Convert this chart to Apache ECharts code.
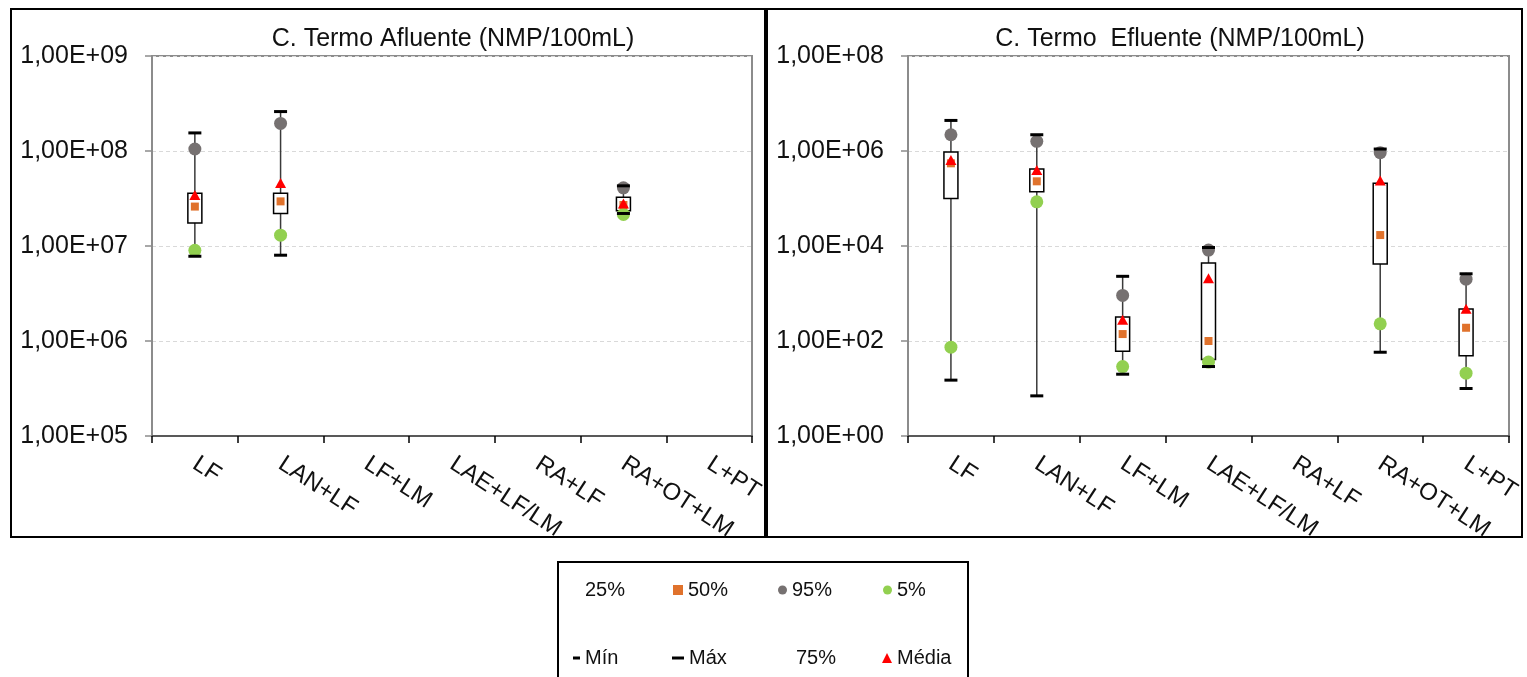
<!DOCTYPE html>
<html>
<head>
<meta charset="utf-8">
<script src="https://cdn.jsdelivr.net/npm/echarts@6/dist/echarts.min.js"></script>
<style>
  html, body { margin: 0; padding: 0; background: #fff; }
  #chart { width: 1527px; height: 677px; }
</style>
</head>
<body>
<div id="chart"></div>
<script>
// Treatment systems (shared by both panels)
const categories = ['LF', 'LAN+LF', 'LF+LM', 'LAE+LF/LM', 'RA+LF', 'RA+OT+LM', 'L+PT'];

// Thermotolerant coliforms, influent (NMP/100mL)
const afluenteMin  = [7.8e6, 8.0e6, null, null, null, 2.2e7, null];
const afluenteP5   = [9.0e6, 1.3e7, null, null, null, 2.15e7, null];
const afluenteP25  = [1.75e7, 2.2e7, null, null, null, 2.35e7, null];
const afluenteP50  = [2.6e7, 2.95e7, null, null, null, 2.7e7, null];
const afluenteP75  = [3.6e7, 3.6e7, null, null, null, 3.25e7, null];
const afluenteP95  = [1.05e8, 1.95e8, null, null, null, 4.1e7, null];
const afluenteMax  = [1.55e8, 2.6e8, null, null, null, 4.3e7, null];
const afluenteMean = [3.45e7, 4.6e7, null, null, null, 2.8e7, null];

// Thermotolerant coliforms, effluent (NMP/100mL)
const efluenteMin  = [15, 7, 20, 29, null, 58, 10];
const efluenteP5   = [74, 8.5e4, 29, 36, null, 230, 21];
const efluenteP25  = [1.0e5, 1.38e5, 61, 41, null, 4200, 49];
const efluenteP50  = [5.5e5, 2.3e5, 140, 100, null, 1.7e4, 190];
const efluenteP75  = [9.5e5, 4.2e5, 320, 4400, null, 2.1e5, 470];
const efluenteP95  = [2.2e6, 1.6e6, 910, 8200, null, 9.2e5, 2000];
const efluenteMax  = [4.4e6, 2.2e6, 2300, 9300, null, 1.1e6, 2600];
const efluenteMean = [6.5e5, 4.0e5, 280, 2100, null, 2.4e5, 480];

// Y tick labels
const leftYLabels  = ['1,00E+05', '1,00E+06', '1,00E+07', '1,00E+08', '1,00E+09'];
const rightYLabels = ['1,00E+00', '1,00E+02', '1,00E+04', '1,00E+06', '1,00E+08'];

const FONT = '"Liberation Sans", Arial, sans-serif';

function points(arr) {
  const out = [];
  arr.forEach((v, i) => { if (v != null) out.push([i, v]); });
  return out;
}

function boxData(mn, p25, p75, mx) {
  const out = [];
  categories.forEach((c, i) => {
    if (mn[i] != null) out.push([i, mn[i], p25[i], p75[i], mx[i]]);
  });
  return out;
}

// Whisker from min to max plus a 25%-75% box
function renderBox(params, api) {
  const x = api.value(0);
  const pMin = api.coord([x, api.value(1)]);
  const p25 = api.coord([x, api.value(2)]);
  const p75 = api.coord([x, api.value(3)]);
  const pMax = api.coord([x, api.value(4)]);
  const w = 14;
  return {
    type: 'group',
    children: [
      { type: 'line', shape: { x1: pMin[0], y1: pMin[1], x2: pMax[0], y2: pMax[1] },
        style: { stroke: '#3a3a3a', lineWidth: 1.5 } },
      { type: 'rect', shape: { x: p75[0] - w / 2, y: p75[1], width: w, height: p25[1] - p75[1] },
        style: { fill: '#ffffff', stroke: '#000000', lineWidth: 1.5 } }
    ]
  };
}

const styles = {
  '25%':   { symbol: 'none' },
  '50%':   { symbol: 'rect', symbolSize: 8, color: '#E0722C' },
  '95%':   { symbol: 'circle', symbolSize: 13, color: '#767171' },
  '5%':    { symbol: 'circle', symbolSize: 13, color: '#92D050' },
  'Mín':   { symbol: 'rect', symbolSize: [13, 3], color: '#000000' },
  'Máx':   { symbol: 'rect', symbolSize: [13, 3], color: '#000000' },
  '75%':   { symbol: 'none' },
  'Média': { symbol: 'triangle', symbolSize: [11, 10], color: '#FF0000' }
};

function panelSeries(idx, sets) {
  const list = [{
    type: 'custom', xAxisIndex: idx, yAxisIndex: idx,
    renderItem: renderBox,
    encode: { x: 0, y: [1, 2, 3, 4] },
    data: boxData(sets['Mín'], sets['25%'], sets['75%'], sets['Máx']),
    silent: true, z: 2
  }];
  ['25%', '50%', '95%', '5%', 'Mín', 'Máx', '75%', 'Média'].forEach((name, k) => {
    const s = styles[name];
    list.push({
      type: 'scatter', name: name, xAxisIndex: idx, yAxisIndex: idx,
      symbol: s.symbol, symbolSize: s.symbolSize || 10,
      itemStyle: { color: s.color || '#000', opacity: 1 },
      data: points(sets[name]), z: 3 + k, silent: true
    });
  });
  return list;
}

const leftSets = {
  '25%': afluenteP25, '50%': afluenteP50, '95%': afluenteP95, '5%': afluenteP5,
  'Mín': afluenteMin, 'Máx': afluenteMax, '75%': afluenteP75, 'Média': afluenteMean
};
const rightSets = {
  '25%': efluenteP25, '50%': efluenteP50, '95%': efluenteP95, '5%': efluenteP5,
  'Mín': efluenteMin, 'Máx': efluenteMax, '75%': efluenteP75, 'Média': efluenteMean
};

function xAxis(gi) {
  return {
    type: 'category', gridIndex: gi, data: categories, boundaryGap: true,
    axisLine: { show: true, lineStyle: { color: '#595959', width: 2 } },
    axisTick: { show: true, alignWithLabel: false, length: 7, lineStyle: { color: '#000', width: 1.5 } },
    axisLabel: { interval: 0, rotate: -33, margin: 26, fontSize: 24, fontFamily: FONT, color: '#111' },
    splitLine: { show: false }
  };
}

function yAxis(gi, base, min, max, labels, toIndex) {
  return {
    type: 'log', gridIndex: gi, logBase: base, min: min, max: max,
    axisLine: { show: true, lineStyle: { color: '#8c8c8c', width: 2 } },
    axisTick: { show: true, length: 7, lineStyle: { color: '#8c8c8c', width: 1.5 } },
    axisLabel: {
      margin: 24, fontSize: 25, fontFamily: FONT, color: '#111',
      formatter: v => labels[toIndex(v)]
    },
    splitLine: { show: true, lineStyle: { color: '#d9d9d9', width: 1, type: [4, 3] } },
    minorTick: { show: false }, minorSplitLine: { show: false }
  };
}

function legendItem(name, left, top, w, h, icon) {
  return {
    data: [name], left: left, top: top, padding: 0, orient: 'horizontal',
    itemWidth: w, itemHeight: h, icon: icon, selectedMode: false,
    textStyle: { fontSize: 20, fontFamily: FONT, color: '#111' }
  };
}

const chart = echarts.init(document.getElementById('chart'), null, { renderer: 'canvas' });

chart.setOption({
  animation: false,
  backgroundColor: '#ffffff',
  grid: [
    { left: 152, top: 56, width: 600, height: 380, show: true, borderColor: '#8c8c8c', borderWidth: 2,
      containLabel: false, outerBoundsMode: 'none' },
    { left: 908, top: 56, width: 601, height: 380, show: true, borderColor: '#8c8c8c', borderWidth: 2,
      containLabel: false, outerBoundsMode: 'none' }
  ],
  xAxis: [xAxis(0), xAxis(1)],
  yAxis: [
    yAxis(0, 10, 1e5, 1e9, leftYLabels, v => Math.round(Math.log10(v)) - 5),
    yAxis(1, 100, 1, 1e8, rightYLabels, v => Math.round(Math.log10(v) / 2))
  ],
  legend: [
    legendItem('25%', 570, 580, 10, 10, 'none'),
    legendItem('50%', 673, 580, 10, 10, 'rect'),
    legendItem('95%', 778, 580, 9, 9, 'circle'),
    legendItem('5%', 883, 580, 9, 9, 'circle'),
    legendItem('Mín', 573, 648, 7, 3, 'rect'),
    legendItem('Máx', 672, 648, 12, 3, 'rect'),
    legendItem('75%', 781, 648, 10, 10, 'none'),
    legendItem('Média', 882, 648, 10, 10, 'triangle')
  ],
  graphic: [
    { type: 'rect', shape: { x: 11, y: 9, width: 754, height: 528 },
      style: { fill: 'none', stroke: '#000', lineWidth: 2 }, silent: true },
    { type: 'rect', shape: { x: 767, y: 9, width: 755, height: 528 },
      style: { fill: 'none', stroke: '#000', lineWidth: 2 }, silent: true },
    { type: 'rect', shape: { x: 558, y: 562, width: 410, height: 140 },
      style: { fill: 'none', stroke: '#000', lineWidth: 2 }, silent: true },
    { type: 'text', x: 453, y: 39, silent: true,
      style: { text: 'C. Termo Afluente (NMP/100mL)', font: '25px ' + FONT, fill: '#111',
               textAlign: 'center', textVerticalAlign: 'middle', align: 'center', verticalAlign: 'middle' } },
    { type: 'text', x: 1180, y: 39, silent: true,
      style: { text: 'C. Termo  Efluente (NMP/100mL)', font: '25px ' + FONT, fill: '#111',
               textAlign: 'center', textVerticalAlign: 'middle', align: 'center', verticalAlign: 'middle' } }
  ],
  series: panelSeries(0, leftSets).concat(panelSeries(1, rightSets))
});
</script>
</body>
</html>
